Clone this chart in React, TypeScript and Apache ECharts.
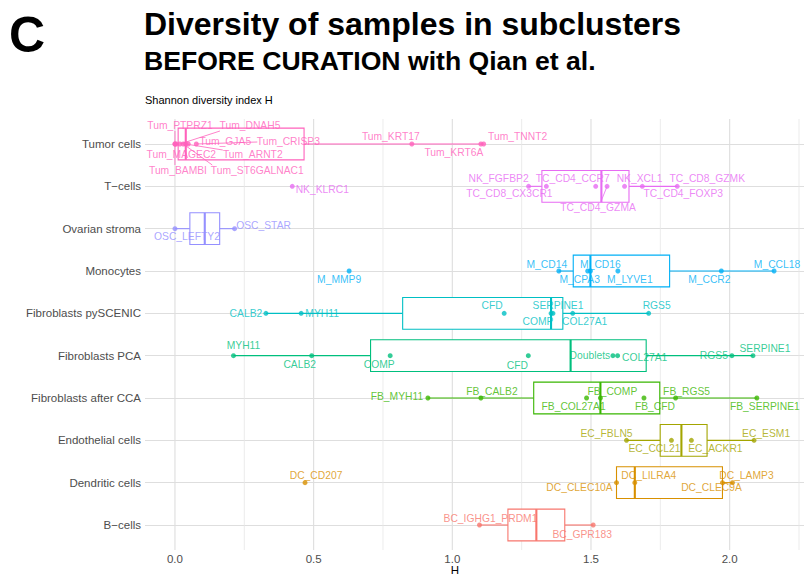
import React, { useEffect, useRef } from "react";
import * as echarts from "echarts";

// ---------- data ----------
const categories = [
  "B\u2212cells",
  "Dendritic cells",
  "Endothelial cells",
  "Fibroblasts after CCA",
  "Fibroblasts PCA",
  "Fibroblasts pySCENIC",
  "Monocytes",
  "Ovarian stroma",
  "T\u2212cells",
  "Tumor cells",
];
const groupColors = ["#F8766D", "#D89000", "#A3A500", "#39B600", "#00BF7D", "#00BFC4", "#00B0F6", "#9590FF", "#E76BF3", "#FF62BC"];

const bcellNames = ["BC_IGHG1_PRDM1", "BC_GPR183"];
const bcellH = [1.098, 1.508];

const dcNames = ["DC_CD207", "DC_CLEC10A", "DC_LILRA4", "DC_CLEC9A", "DC_LAMP3"];
const dcH = [0.469, 1.592, 1.658, 1.974, 2.01];

const ecNames = ["EC_FBLN5", "EC_CCL21", "EC_ACKR1", "EC_ESM1"];
const ecH = [1.628, 1.79, 1.862, 2.088];

const fbCcaNames = ["FB_MYH11", "FB_CALB2", "FB_COL27A1", "FB_COMP", "FB_CFD", "FB_RGS5", "FB_SERPINE1"];
const fbCcaH = [0.912, 1.103, 1.484, 1.534, 1.691, 1.805, 2.098];

const fbPcaNames = ["MYH11", "CALB2", "COMP", "CFD", "Doublets", "COL27A1", "RGS5", "SERPINE1"];
const fbPcaH = [0.211, 0.493, 0.776, 1.274, 1.579, 1.596, 2.008, 2.084];

const fbScenicNames = ["CALB2", "MYH11", "CFD", "COMP", "SERPINE1", "COL27A1", "RGS5"];
const fbScenicH = [0.328, 0.455, 1.187, 1.356, 1.363, 1.434, 1.708];

const monoNames = ["M_MMP9", "M_CD14", "M_CPA3", "M_CD16", "M_LYVE1", "M_CCR2", "M_CCL18"];
const monoH = [0.628, 1.384, 1.488, 1.498, 1.597, 1.97, 2.16];

const oscNames = ["OSC_LEFTY2", "OSC_STAR"];
const oscH = [0.0, 0.215];

const tcellNames = ["NK_KLRC1", "NK_FGFBP2", "TC_CD8_CX3CR1", "TC_CD4_CCR7", "TC_CD4_GZMA", "NK_XCL1", "TC_CD4_FOXP3", "TC_CD8_GZMK"];
const tcellH = [0.423, 1.275, 1.339, 1.517, 1.558, 1.621, 1.685, 1.811];

const tumorNames = ["Tum_PTPRZ1", "Tum_BAMBI", "Tum_MAGEC2", "Tum_DNAH5", "Tum_ST6GALNAC1", "Tum_ARNT2", "Tum_GJA5", "Tum_CRISP3", "Tum_KRT17", "Tum_KRT6A", "Tum_TNNT2"];
const tumorH = [0.0, 0.0, 0.005, 0.018, 0.03, 0.039, 0.048, 0.077, 0.854, 1.103, 1.113];

const majorTicks = [0, 0.5, 1, 1.5, 2];
const minorTicks = [0.25, 0.75, 1.25, 1.75, 2.25];

// ---------- label placement (pixel shifts of each text from its point) ----------
const bcellShift = [[11, -7], [-11, 9]];
const dcShift = [[11, -7], [-37, 5], [14, -7], [-11, 5], [14, -7]];
const ecShift = [[-20, -7], [-17, 8], [24, 8], [12, -7]];
const fbCcaShift = [[-31, -2], [11, -7], [-13, 8], [12, -7], [11, 8], [11, -7], [8, 8]];
const fbPcaShift = [[10, -10], [-12, 9], [-11, 9], [-11, 10], [-23, 0], [27, 2], [-18, 0], [12, -7]];
const fbScenicShift = [[-20, 0], [21, 0], [-12, -8], [-13, 8], [5, -8], [12, 8], [8, -8]];
const monoShift = [[-10, 8], [-12, -7], [-8, 8], [10, -7], [12, 8], [-12, 8], [3, -7]];
const oscShift = [[12, 8], [29, -3]];
const tcellShift = [[30, 3], [-30, -8], [-37, 7], [-23, -8], [-9, 21], [15, -8], [41, 7], [30, -8]];
const tumorShift = [[5, -18.5], [3, 26.5], [5, 10.5], [70, -18.5], [74, 26.5], [67, 10.5], [37, -2.5], [92, -2.5], [-21, -7.5], [-27, 8.5], [34, -7.5]];

// repel segments: end of the segment relative to its point (pixels)
const labelLinks: Record<string, [number, number]> = {
  Tum_PTPRZ1: [0, -13],
  Tum_BAMBI: [0, 21],
  Tum_DNAH5: [40, -13],
  Tum_ST6GALNAC1: [29, 21],
  Tum_ARNT2: [37, 6],
  Tum_CRISP3: [61, -2],
  TC_CD4_GZMA: [-6, 15],
};

const groupNames = [bcellNames, dcNames, ecNames, fbCcaNames, fbPcaNames, fbScenicNames, monoNames, oscNames, tcellNames, tumorNames];
const groupH = [bcellH, dcH, ecH, fbCcaH, fbPcaH, fbScenicH, monoH, oscH, tcellH, tumorH];
const groupShift = [bcellShift, dcShift, ecShift, fbCcaShift, fbPcaShift, fbScenicShift, monoShift, oscShift, tcellShift, tumorShift];

const FONT = "'Liberation Sans', Arial, Helvetica, sans-serif";

function quantile7(sorted: number[], p: number) {
  const h = (sorted.length - 1) * p;
  const lo = Math.floor(h);
  const hi = Math.ceil(h);
  return sorted[lo] + (h - lo) * (sorted[hi] - sorted[lo]);
}

function boxStats(values: number[]) {
  const s = [...values].sort((a, b) => a - b);
  const q1 = quantile7(s, 0.25);
  const med = quantile7(s, 0.5);
  const q3 = quantile7(s, 0.75);
  const iqr = q3 - q1;
  const lw = Math.min(...s.filter((v) => v >= q1 - 1.5 * iqr));
  const hw = Math.max(...s.filter((v) => v <= q3 + 1.5 * iqr));
  return [lw, q1, med, q3, hw];
}

export default function App() {
  const ref = useRef<HTMLDivElement>(null);

  useEffect(() => {
    if (!ref.current) return;
    const chart = echarts.init(ref.current, null, { renderer: "svg" });

    const all = groupH.flat();
    const lo = Math.min(...all);
    const hi = Math.max(...all);
    const pad = (hi - lo) * 0.05;
    const xMin = lo - pad;
    const xMax = hi + pad;

    const boxData = groupH.map((vals, i) => [i, ...boxStats(vals)]);

    const pointData: any[] = [];
    const linkData: any[] = [];
    groupH.forEach((vals, gi) => {
      vals.forEach((v, j) => {
        const name = groupNames[gi][j];
        const sh = groupShift[gi][j];
        pointData.push({
          value: [v, gi],
          name,
          itemStyle: { color: groupColors[gi] },
          label: { offset: sh, color: groupColors[gi] },
        });
        const lk = labelLinks[name];
        if (lk) linkData.push([v, gi, lk[0], lk[1]]);
      });
    });

    const gridData = [
      ...majorTicks.map((v) => [v, 1]),
      ...minorTicks.map((v) => [v, 0]),
    ];

    const option: any = {
      animation: false,
      backgroundColor: "#ffffff",
      grid: [
        { left: 145, right: 7, top: 119, bottom: 26 },
        { left: 145, right: 7, top: 144, bottom: 51 },
      ],
      xAxis: [
        {
          type: "value",
          gridIndex: 0,
          min: xMin,
          max: xMax,
          axisLine: { show: false },
          axisTick: { show: false },
          splitLine: { show: false },
          axisLabel: {
            customValues: majorTicks,
            formatter: (v: number) => v.toFixed(1),
            color: "#4D4D4D",
            fontSize: 11.5,
            fontFamily: FONT,
            margin: 3,
          },
        },
        { type: "value", gridIndex: 1, min: xMin, max: xMax, show: false },
      ],
      yAxis: [
        { type: "value", gridIndex: 0, min: 0, max: 1, show: false },
        {
          type: "category",
          gridIndex: 1,
          data: categories,
          boundaryGap: false,
          axisLine: { show: false },
          axisTick: { show: false },
          splitLine: { show: true, interval: 0, lineStyle: { color: "#DEDEDE", width: 1.1 } },
          axisLabel: { interval: 0, color: "#4D4D4D", fontSize: 11.5, fontFamily: FONT, margin: 4 },
        },
      ],
      graphic: [
        { type: "text", x: 9, y: 35, style: { text: "C", fill: "#000", font: `bold 50px ${FONT}`, verticalAlign: "middle" } },
        { type: "text", x: 144, y: 24, style: { text: "Diversity of samples in subclusters", fill: "#000", font: `bold 32px ${FONT}`, verticalAlign: "middle" } },
        { type: "text", x: 144, y: 61, style: { text: "BEFORE CURATION with Qian et al.", fill: "#000", font: `bold 26.6px ${FONT}`, verticalAlign: "middle" } },
        { type: "text", x: 145, y: 100, style: { text: "Shannon diversity index H", fill: "#000", font: `11px ${FONT}`, verticalAlign: "middle" } },
        { type: "text", x: 455, y: 570, style: { text: "H", fill: "#000", font: `11.5px ${FONT}`, align: "center", verticalAlign: "middle" } },
      ],
      series: [
        {
          type: "custom",
          xAxisIndex: 0,
          yAxisIndex: 0,
          z: 1,
          silent: true,
          data: gridData,
          encode: { x: 0 },
          renderItem: (params: any, api: any) => {
            const p = api.coord([api.value(0), 0]);
            const cs = params.coordSys;
            const major = api.value(1) === 1;
            return {
              type: "line",
              shape: { x1: p[0], y1: cs.y, x2: p[0], y2: cs.y + cs.height },
              style: { stroke: major ? "#DEDEDE" : "#E6E6E6", lineWidth: major ? 1.1 : 0.8 },
            };
          },
        },
        {
          type: "custom",
          xAxisIndex: 1,
          yAxisIndex: 1,
          z: 2,
          data: boxData,
          encode: { x: [1, 2, 3, 4, 5], y: 0 },
          renderItem: (params: any, api: any) => {
            const cat = api.value(0);
            const color = groupColors[cat];
            const pLw = api.coord([api.value(1), cat]);
            const pQ1 = api.coord([api.value(2), cat]);
            const pMed = api.coord([api.value(3), cat]);
            const pQ3 = api.coord([api.value(4), cat]);
            const pHw = api.coord([api.value(5), cat]);
            const half = api.size([0, 1])[1] * 0.375;
            const y = pMed[1];
            const st = { stroke: color, lineWidth: 1.1, fill: null };
            return {
              type: "group",
              children: [
                { type: "line", shape: { x1: pLw[0], y1: y, x2: pQ1[0], y2: y }, style: st },
                { type: "line", shape: { x1: pQ3[0], y1: y, x2: pHw[0], y2: y }, style: st },
                { type: "rect", shape: { x: pQ1[0], y: y - half, width: pQ3[0] - pQ1[0], height: 2 * half }, style: { stroke: color, lineWidth: 1.1, fill: "#ffffff" } },
                { type: "line", shape: { x1: pMed[0], y1: y - half, x2: pMed[0], y2: y + half }, style: { stroke: color, lineWidth: 2.1 } },
              ],
            };
          },
        },
        {
          type: "custom",
          xAxisIndex: 1,
          yAxisIndex: 1,
          z: 3,
          data: linkData,
          encode: { x: 0, y: 1 },
          renderItem: (params: any, api: any) => {
            const cat = api.value(1);
            const p = api.coord([api.value(0), cat]);
            return {
              type: "line",
              shape: { x1: p[0], y1: p[1], x2: p[0] + api.value(2), y2: p[1] + api.value(3) },
              style: { stroke: groupColors[cat], lineWidth: 0.8 },
            };
          },
        },
        {
          type: "scatter",
          xAxisIndex: 1,
          yAxisIndex: 1,
          z: 4,
          symbolSize: 5,
          data: pointData,
          label: {
            show: true,
            position: "inside",
            formatter: "{b}",
            fontSize: 10.3,
            fontFamily: FONT,
            textBorderWidth: 0,
          },
          emphasis: { disabled: true },
        },
      ],
    };

    chart.setOption(option);
    return () => chart.dispose();
  }, []);

  return <div ref={ref} style={{ position: "absolute", left: 0, top: 0, width: 811, height: 576 }} />;
}
